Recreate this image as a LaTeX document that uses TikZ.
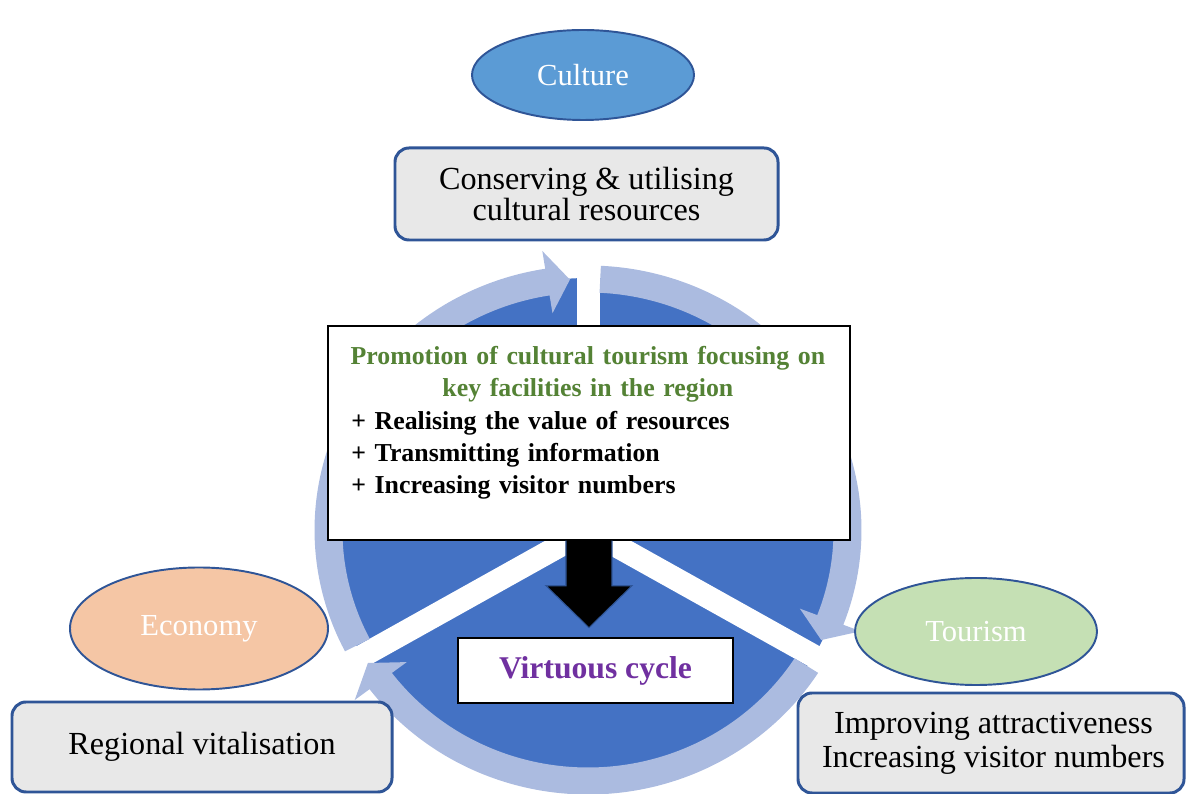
\documentclass[tikz,border=0pt]{standalone}
\usepackage{fontspec}
\setmainfont{Liberation Serif}
\usetikzlibrary{shapes.geometric}
\definecolor{discblue}{HTML}{4472C4}
\definecolor{ringblue}{HTML}{ABBBE0}
\definecolor{edgeblue}{HTML}{2F5597}
\definecolor{culturefill}{HTML}{5B9BD5}
\definecolor{economyfill}{HTML}{F5C6A5}
\definecolor{tourismfill}{HTML}{C5E0B4}
\definecolor{boxgray}{HTML}{E8E8E8}
\definecolor{promogreen}{HTML}{548235}
\definecolor{cyclepurple}{HTML}{7030A0}
\begin{document}
\begin{tikzpicture}[scale=0.2]
\tikzstyle{every node}+=[inner sep=0pt]
\tikzstyle{topic}=[ellipse, draw=edgeblue, line width=1.1pt, text=white, font=\fontsize{17.4}{20}\selectfont]
\tikzstyle{aimbox}=[rectangle, rounded corners=0.28cm, draw=edgeblue, line width=1.7pt, fill=boxgray, align=center, font=\fontsize{18.3}{18.2}\selectfont]
\useasboundingbox (0,0) rectangle (118.6,-79.4);
\begin{scope}[shift={(58.8,-53)}, xscale=1.034]
\fill [discblue] (0,0) circle (25.2);
\draw [white, line width=0.46cm] (0,0) -- (90:27);
\draw [white, line width=0.46cm] (0,0) -- (210:27);
\draw [white, line width=0.46cm] (0,0) -- (330:27);
\fill [ringblue] (87.3:23.75) arc [start angle=87.3, end angle=-21, radius=23.75] -- (-21:21.95) -- (-26:25.1) -- (-21:28.25) -- (-21:26.45) arc [start angle=-21, end angle=87.3, radius=26.45] -- cycle;
\fill [ringblue] (-32.7:23.75) arc [start angle=-32.7, end angle=-143, radius=23.75] -- (-143:21.95) -- (-148:25.1) -- (-143:28.25) -- (-143:26.45) arc [start angle=-143, end angle=-32.7, radius=26.45] -- cycle;
\fill [ringblue] (207.3:23.75) arc [start angle=207.3, end angle=99, radius=23.75] -- (99:21.95) -- (94:25.1) -- (99:28.25) -- (99:26.45) arc [start angle=99, end angle=207.3, radius=26.45] -- cycle;
\end{scope}
\node [topic, fill=culturefill, minimum width=4.44cm, minimum height=1.8cm] (culture) at (58.3,-7.5) {Culture};
\node [aimbox, minimum width=7.66cm, minimum height=1.84cm] (culturebox) at (58.65,-19.4) {Conserving \& utilising\\cultural resources};
\node [topic, fill=economyfill, minimum width=5.16cm, minimum height=2.44cm] (economy) at (19.9,-62.85) {Economy};
\node [aimbox, minimum width=7.6cm, minimum height=1.8cm] (economybox) at (20.2,-74.7) {Regional vitalisation};
\node [topic, fill=tourismfill, minimum width=4.84cm, minimum height=2.14cm] (tourism) at (97.6,-63.15) {Tourism};
\node [aimbox, minimum width=7.72cm, minimum height=2cm, font=\fontsize{18.3}{19.3}\selectfont] (tourismbox) at (99.1,-74.3) {\hspace*{0.1cm}Improving attractiveness\\\hspace*{0.1cm}Increasing visitor numbers};
\node [draw=black, line width=0.85pt, fill=white, minimum width=10.44cm, minimum height=4.28cm] (promo) at (58.9,-43.3) {};
\node [anchor=north west, text width=9.46cm, font=\bfseries\fontsize{14.7}{18.4}\selectfont] (promotext) at (35.1,-34.6) {{\color{promogreen}\makebox[\linewidth]{Promotion of cultural tourism focusing on}\\\makebox[\linewidth]{key facilities in the region}}\\+ Realising the value of resources\\+ Transmitting information\\+ Increasing visitor numbers};
\filldraw [fill=black, draw=edgeblue, line width=0.6pt] (promo.south) ++(-2.3,0) -- ++(0,-4.5) -- ++(-2,0) -- ++(4.3,-4.2) -- ++(4.3,4.2) -- ++(-2,0) -- ++(0,4.5);
\node [draw=black, line width=1.3pt, fill=white, minimum width=5.5cm, minimum height=1.3cm, text=cyclepurple, font=\bfseries\fontsize{18}{20}\selectfont] (virtuous) at (59.55,-67.05) {Virtuous cycle};
\end{tikzpicture}
\end{document}
